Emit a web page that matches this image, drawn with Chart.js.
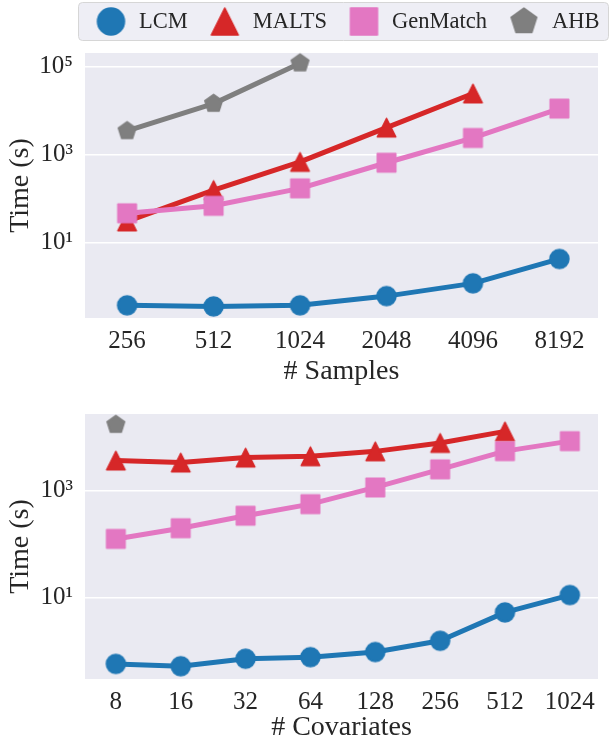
<!DOCTYPE html>
<html>
<head>
<meta charset="utf-8">
<script src="https://cdn.jsdelivr.net/npm/chart.js@4/dist/chart.umd.min.js"></script>
<style>
html, body { margin: 0; padding: 0; background: #fff; }
#wrap { position: relative; width: 613px; height: 748px; overflow: hidden; }
canvas { position: absolute; left: 0; }
</style>
</head>
<body>
<div id="wrap">
  <canvas id="samplesChart" width="613" height="385" style="top:0"></canvas>
  <canvas id="covChart" width="613" height="363" style="top:385px"></canvas>
</div>
<script>
// top panel: time vs number of samples
const sampleLabels = ['256', '512', '1024', '2048', '4096', '8192'];
const lcmSamples = [0.37, 0.35, 0.37, 0.60, 1.17, 4.2];
const maltsSamples = [30, 155, 680, 4100, 24500];
const genmatchSamples = [46, 68, 170, 650, 2380, 11100];
const ahbSamples = [3450, 14400, 120000];
const sampleYTicks = [1e1, 1e3, 1e5];

// bottom panel: time vs number of covariates
const covLabels = ['8', '16', '32', '64', '128', '256', '512', '1024'];
const lcmCov = [0.575, 0.52, 0.72, 0.77, 0.96, 1.56, 5.3, 11.2];
const maltsCov = [3700, 3400, 4200, 4450, 5500, 7900, 13000];
const genmatchCov = [126, 200, 343, 565, 1160, 2530, 5550, 8550];
const ahbCov = [17400];
const covYTicks = [1e1, 1e3];

const seriesNames = ['LCM', 'MALTS', 'GenMatch', 'AHB'];
const seriesColors = ['#1f77b4', '#d62728', '#e377c2', '#7f7f7f'];
const seriesShapes = ['circle', 'triangle', 'square', 'pentagon'];

const textColor = '#262626';
const serif = "'Liberation Serif', 'Times New Roman', serif";
const sup = {'0': '⁰', '1': '¹', '2': '²', '3': '³', '4': '⁴', '5': '⁵', '6': '⁶', '7': '⁷', '8': '⁸', '9': '⁹'};

function makeMarker(shape, color, size) {
    const c = document.createElement('canvas');
    c.width = c.height = Math.ceil(size + 4);
    const g = c.getContext('2d');
    const m = c.width / 2, r = size / 2;
    g.fillStyle = color;
    g.strokeStyle = color;
    g.lineWidth = 1.5;
    g.lineJoin = 'round';
    g.beginPath();
    if (shape === 'circle') {
        g.arc(m, m, r, 0, Math.PI * 2);
    } else if (shape === 'square') {
        g.rect(m - r, m - r, size, size);
    } else if (shape === 'triangle') {
        g.moveTo(m, m - r);
        g.lineTo(m + r, m + r);
        g.lineTo(m - r, m + r);
        g.closePath();
    } else {
        for (let i = 0; i < 5; i++) {
            const a = -Math.PI / 2 + i * 2 * Math.PI / 5;
            g.lineTo(m + r * Math.cos(a), m + r * Math.sin(a));
        }
        g.closePath();
    }
    g.fill();
    g.stroke();
    return c;
}

const plotMarkers = seriesShapes.map((s, i) => makeMarker(s, seriesColors[i], s === 'circle' ? 19 : 18.5));
const legendMarkers = seriesShapes.map((s, i) => makeMarker(s, seriesColors[i], 27));

function buildDatasets(seriesList) {
    return seriesList.map((vals, i) => ({
        label: seriesNames[i],
        data: vals.map((v, j) => ({x: j, y: v})),
        borderColor: seriesColors[i],
        backgroundColor: seriesColors[i],
        borderWidth: 5,
        borderJoinStyle: 'round',
        pointStyle: plotMarkers[i],
        pointRadius: 10,
        pointHoverRadius: 10,
        order: 3 - i,
        clip: false
    }));
}

const bgPlugin = {
    id: 'plotBg',
    beforeDraw(chart) {
        const a = chart.chartArea;
        const ctx = chart.ctx;
        ctx.save();
        ctx.fillStyle = '#eaeaf2';
        ctx.fillRect(a.left, a.top, a.right - a.left, a.bottom - a.top);
        ctx.restore();
    }
};

const boxLegend = {
    id: 'boxLegend',
    afterDraw(chart) {
        const ctx = chart.ctx;
        ctx.save();
        ctx.beginPath();
        ctx.roundRect(78.5, 2.5, 530, 38, 4);
        ctx.fillStyle = 'rgba(234,234,242,0.8)';
        ctx.fill();
        ctx.strokeStyle = '#d6d6d6';
        ctx.lineWidth = 1;
        ctx.stroke();
        ctx.font = '22.5px ' + serif;
        ctx.fillStyle = textColor;
        ctx.textBaseline = 'middle';
        let x = 97;
        chart.data.datasets.forEach((ds, i) => {
            const mk = legendMarkers[i];
            ctx.drawImage(mk, x + 14 - mk.width / 2, 21.5 - mk.height / 2);
            ctx.fillText(ds.label, x + 42, 22);
            x += 42 + ctx.measureText(ds.label).width + 23;
        });
        ctx.restore();
    }
};

function makeChart(id, labels, seriesList, yTicks, yMin, yMax, xMin, xMax, opts) {
    return new Chart(document.getElementById(id), {
        type: 'line',
        data: {datasets: buildDatasets(seriesList)},
        options: {
            responsive: false,
            animation: false,
            devicePixelRatio: 1,
            layout: {padding: {top: opts.top, left: 0, right: 0, bottom: 0}},
            plugins: {legend: {display: false}, tooltip: {enabled: false}},
            scales: {
                x: {
                    type: 'linear',
                    min: xMin,
                    max: xMax,
                    afterBuildTicks: s => { s.ticks = labels.map((_, i) => ({value: i})); },
                    afterFit: s => { s.height = opts.xHeight; s.paddingLeft = 0; s.paddingRight = 0; },
                    grid: {display: false, drawTicks: false, tickLength: 0},
                    border: {display: false},
                    ticks: {
                        autoSkip: false,
                        maxRotation: 0,
                        padding: 8,
                        color: textColor,
                        font: {family: serif, size: 25},
                        callback: v => labels[v]
                    },
                    title: {
                        display: true,
                        text: opts.xTitle,
                        color: textColor,
                        font: {family: serif, size: 28, lineHeight: 1},
                        padding: {top: 0, bottom: opts.titlePad}
                    }
                },
                y: {
                    type: 'logarithmic',
                    min: yMin,
                    max: yMax,
                    afterBuildTicks: s => { s.ticks = yTicks.map(v => ({value: v})); },
                    afterFit: s => { s.width = 85; s.paddingTop = 0; s.paddingBottom = 0; },
                    grid: {color: '#ffffff', lineWidth: 1.5, drawTicks: false, tickLength: 0},
                    border: {display: false},
                    ticks: {
                        padding: 12,
                        color: textColor,
                        font: {family: serif, size: 25},
                        callback: v => '10' + String(Math.round(Math.log10(v))).split('').map(d => sup[d]).join('')
                    },
                    title: {
                        display: true,
                        text: 'Time (s)',
                        color: textColor,
                        font: {family: serif, size: 28, lineHeight: 1},
                        padding: {top: 7, bottom: 0}
                    }
                }
            }
        },
        plugins: opts.legend ? [bgPlugin, boxLegend] : [bgPlugin]
    });
}

makeChart('samplesChart', sampleLabels,
    [lcmSamples, maltsSamples, genmatchSamples, ahbSamples],
    sampleYTicks, Math.pow(10, -0.72), Math.pow(10, 5.31), -0.487, 5.446,
    {top: 53, xHeight: 67, xTitle: '# Samples', titlePad: -1, legend: true});

makeChart('covChart', covLabels,
    [lcmCov, maltsCov, genmatchCov, ahbCov],
    covYTicks, Math.pow(10, -0.487), Math.pow(10, 4.44), -0.476, 7.434,
    {top: 29, xHeight: 69, xTitle: '# Covariates', titlePad: 6, legend: false});
</script>
</body>
</html>
